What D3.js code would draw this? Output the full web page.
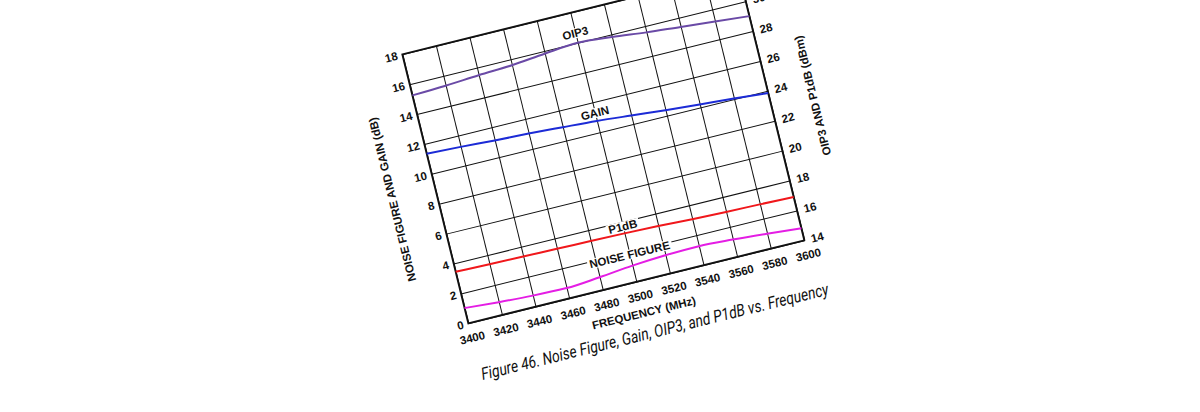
<!DOCTYPE html>
<html>
<head>
<meta charset="utf-8">
<script src="https://cdn.jsdelivr.net/npm/d3@7"></script>
<style>
  html, body { margin: 0; padding: 0; background: #fff; }
  svg { display: block; }
  text { font-family: 'Liberation Sans', Arial, sans-serif; font-weight: bold; fill: #111; }
</style>
</head>
<body>
<svg id="chart" width="1200" height="412"></svg>
<script>
// ---- chart values ----
const frequency   = [3400, 3420, 3440, 3460, 3480, 3500, 3520, 3540, 3560, 3580, 3600];
const leftTicks   = [0, 2, 4, 6, 8, 10, 12, 14, 16, 18];
const rightTicks  = [14, 16, 18, 20, 22, 24, 26, 28, 30];

// left axis (dB)
const noiseFigure = [1.02, 0.86, 0.74, 0.69, 0.86, 1.08, 1.22, 1.27, 1.16, 1.0, 0.81];
const gain        = [11.35, 11.25, 11.12, 11.03, 10.9, 10.76, 10.57, 10.37, 10.2, 10.04, 9.85];
// right axis (dBm)
const oip3        = [29.25, 29.34, 29.49, 29.6, 29.82, 29.99, 29.82, 29.58, 29.39, 29.19, 29.0];
const p1db        = [17.45, 17.4, 17.36, 17.32, 17.28, 17.24, 17.18, 17.08, 17.01, 16.96, 16.9];

const caption = 'Figure 46. Noise Figure, Gain, OIP3, and P1dB vs. Frequency';

// ---- layout ----
// the figure is a rotated scan: work in a flat frame, then map the plot
// rectangle onto the three visible corners of the page
let plotW = 346,
    plotH = 277,
    topLeft    = [402.3, 54.3],
    bottomLeft = [468.3, 323.3],
    bottomRight = [804.3, 240.3];

let ax = [(bottomRight[0] - bottomLeft[0]) / plotW, (bottomRight[1] - bottomLeft[1]) / plotW],
    ay = [(bottomLeft[0] - topLeft[0]) / plotH, (bottomLeft[1] - topLeft[1]) / plotH];

let svg = d3.select('#chart');
let plot = svg.append('g')
    .attr('transform', `matrix(${ax[0]},${ax[1]},${ay[0]},${ay[1]},${topLeft[0]},${topLeft[1]})`);

let x      = d3.scaleLinear().domain([3400, 3600]).range([0, plotW]),
    yLeft  = d3.scaleLinear().domain([0, 18]).range([plotH, 0]),
    yRight = d3.scaleLinear().domain([14, 32]).range([plotH, 0]);

// grid + tick labels come from the axes themselves
function styleAxis (g) {
  g.attr('font-family', null).attr('font-size', null);
  g.select('.domain').remove();
  g.selectAll('.tick line').attr('stroke', '#111').attr('stroke-width', 1);
  g.selectAll('.tick text').attr('font-size', '11.5px').attr('fill', '#111');
}

plot.append('g')
    .attr('transform', `translate(0,${plotH})`)
    .call(d3.axisBottom(x).tickValues(frequency).tickSize(-plotH).tickPadding(11).tickFormat(d3.format('d')))
    .call(styleAxis);

plot.append('g')
    .call(d3.axisLeft(yLeft).tickValues(leftTicks).tickSize(-plotW).tickPadding(5))
    .call(styleAxis);

plot.append('g')
    .attr('transform', `translate(${plotW},0)`)
    .call(d3.axisRight(yRight).tickValues(rightTicks).tickSize(0).tickPadding(7))
    .call(styleAxis);

// heavier frame
plot.append('rect')
    .attr('width', plotW).attr('height', plotH)
    .attr('fill', 'none').attr('stroke', '#111').attr('stroke-width', 1.8);

// curve labels sit on a white patch that cuts the grid
function addLabel (txt, fx, baseline) {
  let g = plot.append('g');
  let t = g.append('text')
      .attr('x', x(fx)).attr('y', baseline)
      .attr('text-anchor', 'middle')
      .attr('font-size', '11.5px')
      .text(txt);
  let bb = t.node().getBBox();
  g.insert('rect', 'text')
      .attr('x', bb.x - 2).attr('y', bb.y + 1)
      .attr('width', bb.width + 4).attr('height', bb.height - 2)
      .attr('fill', '#fff');
}

addLabel('OIP3', 3500, 25);
addLabel('GAIN', 3500, 107.3);
addLabel('P1dB', 3500, 224.2);
addLabel('NOISE FIGURE', 3500, 253);

// curves
let series = [
  { values: oip3,        scale: yRight, color: '#6a4aa6' },
  { values: gain,        scale: yLeft,  color: '#1c2bd6' },
  { values: p1db,        scale: yRight, color: '#f0171b' },
  { values: noiseFigure, scale: yLeft,  color: '#e41de4' }
];

series.forEach((s) => {
  let line = d3.line()
      .x((d, i) => x(frequency[i]))
      .y((d) => s.scale(d))
      .curve(d3.curveMonotoneX);
  plot.append('path')
      .attr('d', line(s.values))
      .attr('fill', 'none')
      .attr('stroke', s.color)
      .attr('stroke-width', 2);
});

// axis titles
plot.append('text')
    .attr('x', plotW / 2).attr('y', 313)
    .attr('text-anchor', 'middle')
    .attr('font-size', '11.5px')
    .text('FREQUENCY (MHz)');

plot.append('text')
    .attr('transform', `translate(-40.2,${plotH / 2}) rotate(-90)`)
    .attr('text-anchor', 'middle')
    .attr('font-size', '11.5px')
    .text('NOISE FIGURE AND GAIN (dB)');

plot.append('text')
    .attr('transform', `translate(392.6,${plotH / 2}) rotate(-90)`)
    .attr('text-anchor', 'middle')
    .attr('font-size', '11.5px')
    .text('OIP3 AND P1dB (dBm)');

// figure caption, same page plane
plot.append('text')
    .attr('x', 0.6).attr('y', 335.6)
    .attr('textLength', 357)
    .attr('lengthAdjust', 'spacingAndGlyphs')
    .style('font-family', "Roboto, 'Open Sans', sans-serif")
    .style('font-weight', 400)
    .style('font-style', 'italic')
    .attr('font-size', '17px')
    .attr('fill', '#222')
    .text(caption);
</script>
</body>
</html>
